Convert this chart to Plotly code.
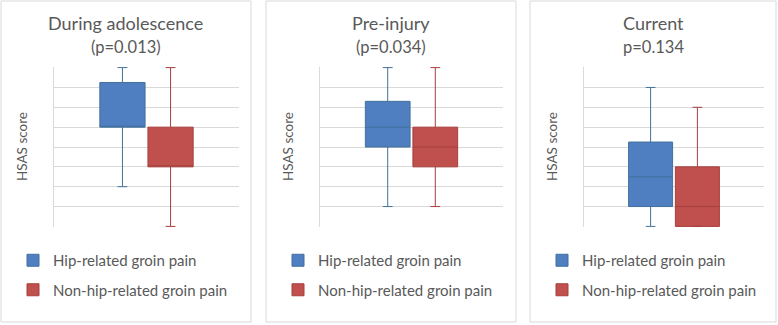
import plotly.graph_objects as go

# ---------------- data ----------------
panels = ["During adolescence", "Pre-injury", "Current"]
pvalues = ["(p=0.013)", "(p=0.034)", "p=0.134"]
series = ["Hip-related groin pain", "Non-hip-related groin pain"]
category = ["HSAS"]

hip_lower = [2, 1, 0]
hip_q1 = [5, 4, 1]
hip_median = [5, 5, 2.5]
hip_q3 = [7.25, 6.3, 4.25]
hip_upper = [8, 8, 7]

non_lower = [0, 1, 0]
non_q1 = [3, 3, 0]
non_median = [3, 4, 1]
non_q3 = [5, 5, 3]
non_upper = [8, 8, 6]

y_ticks = [0, 1, 2, 3, 4, 5, 6, 7, 8]

# ---------------- style ----------------
W, H = 778, 325
FONT = "Lato"
TXT = "#595959"
GRID = "#D9D9D9"
fills = ["#4F7FC0", "#C0504D"]
lines = ["#41719C", "#A63F3C"]

panel_px = [(1, 251), (266, 516), (530, 776)]
plot_px = [(54, 239), (320, 503), (584, 764)]
plot_top, plot_bot = 67, 227


def px(x):
    return x / W


def py(y):
    return 1 - y / H


fig = go.Figure()

stats = [
    (hip_lower, hip_q1, hip_median, hip_q3, hip_upper),
    (non_lower, non_q1, non_median, non_q3, non_upper),
]

for i in range(3):
    suffix = "" if i == 0 else str(i + 1)
    for s in range(2):
        lo, q1, med, q3, up = stats[s]
        fig.add_trace(go.Box(
            name=series[s],
            x=category,
            lowerfence=[lo[i]], q1=[q1[i]], median=[med[i]], q3=[q3[i]],
            upperfence=[up[i]],
            fillcolor=fills[s],
            line=dict(color=lines[s], width=1),
            whiskerwidth=0.22,
            xaxis="x" + suffix, yaxis="y" + suffix,
            legend="legend" + suffix,
            legendgroup=f"g{i}{s}",
            offsetgroup=str(s),
            showlegend=True,
            boxpoints=False,
        ))

layout = dict(
    width=W, height=H,
    margin=dict(l=0, r=0, t=0, b=0),
    paper_bgcolor="white", plot_bgcolor="white",
    boxmode="group", boxgap=0.48, boxgroupgap=0.06,
    font=dict(family=FONT, color=TXT),
    shapes=[], annotations=[],
)

for i in range(3):
    suffix = "" if i == 0 else str(i + 1)
    x0, x1 = plot_px[i]
    layout["xaxis" + suffix] = dict(
        domain=[px(x0), px(x1)], anchor="y" + suffix,
        showticklabels=False, showgrid=False, zeroline=False,
        showline=False, ticks="", fixedrange=True,
    )
    layout["yaxis" + suffix] = dict(
        domain=[py(plot_bot), py(plot_top)], anchor="x" + suffix,
        range=[-0.03, 8.03], tickvals=y_ticks, showticklabels=False,
        showgrid=True, gridcolor=GRID, gridwidth=1,
        zeroline=False, showline=True, linecolor=GRID, linewidth=1,
        ticks="", fixedrange=True,
    )
    p0, p1 = panel_px[i]
    layout["shapes"].append(dict(
        type="rect", xref="paper", yref="paper",
        x0=px(p0), x1=px(p1), y0=py(322), y1=py(1),
        line=dict(color=GRID, width=1), fillcolor="rgba(0,0,0,0)", layer="below",
    ))
    cx = (p0 + p1) / 2
    layout["annotations"].append(dict(
        text=panels[i], x=px(cx), y=py(23), xref="paper", yref="paper",
        xanchor="center", yanchor="middle", showarrow=False,
        font=dict(size=18, color=TXT, family=FONT),
    ))
    layout["annotations"].append(dict(
        text=pvalues[i], x=px(cx), y=py(47), xref="paper", yref="paper",
        xanchor="center", yanchor="middle", showarrow=False,
        font=dict(size=16.5, color=TXT, family=FONT),
    ))
    layout["annotations"].append(dict(
        text="HSAS score", x=px(x0 - 32), y=py(147), xref="paper", yref="paper",
        xanchor="center", yanchor="middle", textangle=-90, showarrow=False,
        font=dict(size=13.5, color=TXT, family=FONT),
    ))
    layout["legend" + suffix] = dict(
        x=px(p0 + 12), y=py(244), xanchor="left", yanchor="top",
        orientation="v", traceorder="grouped", tracegroupgap=7,
        font=dict(size=15, color=TXT, family=FONT),
        bgcolor="rgba(0,0,0,0)",
    )

fig.update_layout(**layout)
fig.write_html(
    "out.html",
    config={"displayModeBar": False},
    post_script="document.body.style.margin='0';document.body.style.padding='0';",
)
